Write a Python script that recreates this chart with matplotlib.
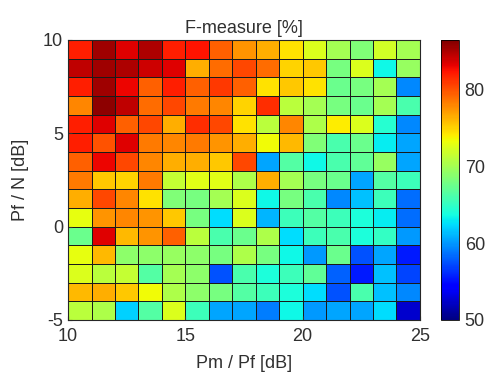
import numpy as np
import matplotlib
matplotlib.use('Agg')
import matplotlib.pyplot as plt

plt.rcParams['font.family'] = ['Liberation Sans', 'DejaVu Sans']
plt.rcParams['axes.unicode_minus'] = False

# cell edges, dB
pm_pf = np.arange(10, 26, 1)     # x edges
pf_n = np.arange(-5, 11, 1)      # y edges

# F-measure [%], rows listed from top (Pf/N = 9..10) to bottom (-5..-4)
f_rows = [
    [82.0, 85.5, 83.5, 85.0, 82.0, 82.5, 79.5, 77.5, 76.5, 74.5, 72.5, 70.0, 68.5, 72.0, 70.0],
    [84.5, 85.5, 85.0, 84.0, 83.5, 76.5, 79.0, 80.5, 79.0, 75.0, 75.5, 68.0, 72.5, 63.5, 69.5],
    [82.0, 85.5, 83.0, 79.5, 82.0, 79.5, 81.0, 79.5, 74.5, 75.5, 74.5, 67.5, 68.0, 70.0, 59.5],
    [78.0, 86.0, 84.5, 79.0, 80.5, 78.5, 78.0, 75.0, 81.5, 71.0, 70.0, 68.0, 67.5, 70.0, 66.0],
    [82.0, 83.5, 79.5, 80.5, 76.5, 81.5, 80.5, 74.5, 71.0, 78.0, 70.5, 74.0, 72.5, 64.5, 59.5],
    [82.0, 80.0, 83.5, 78.5, 78.0, 78.5, 77.5, 76.5, 73.5, 76.0, 68.5, 66.0, 67.5, 63.0, 60.5],
    [79.5, 83.0, 80.5, 78.0, 76.5, 76.5, 75.5, 80.5, 60.5, 66.5, 63.5, 66.0, 67.0, 69.5, 60.5],
    [78.5, 75.5, 75.0, 78.5, 71.5, 72.8, 72.8, 70.5, 76.5, 70.0, 68.0, 67.5, 60.5, 66.5, 65.5],
    [76.5, 80.5, 78.0, 74.5, 68.5, 68.0, 70.0, 72.5, 63.5, 68.0, 66.0, 59.5, 61.5, 65.5, 58.5],
    [73.0, 77.5, 78.0, 77.5, 75.5, 68.0, 62.5, 72.5, 61.0, 65.5, 66.5, 65.5, 64.0, 63.0, 58.5],
    [67.5, 83.5, 76.0, 77.5, 79.5, 71.0, 66.0, 67.5, 70.5, 62.5, 65.5, 66.0, 64.0, 65.0, 60.0],
    [73.0, 76.0, 69.0, 69.0, 69.5, 69.0, 68.0, 70.5, 68.0, 63.5, 60.0, 67.5, 57.5, 60.5, 55.5],
    [72.5, 71.0, 71.5, 66.5, 70.0, 69.0, 57.5, 66.0, 64.0, 65.5, 67.0, 58.0, 55.5, 61.5, 57.0],
    [76.0, 76.5, 75.5, 73.5, 70.5, 69.0, 68.0, 66.5, 65.5, 64.0, 62.5, 57.5, 66.0, 61.5, 59.5],
    [71.0, 70.5, 62.0, 66.5, 72.5, 65.5, 60.5, 60.5, 59.0, 63.5, 60.0, 60.5, 60.5, 62.5, 52.5],
]
f_measure = np.array(f_rows)[::-1]   # bottom row first

fig = plt.figure(figsize=(4.9, 3.8), dpi=100)
ax = fig.add_axes([0.139, 0.158, 0.718, 0.737])
cax = fig.add_axes([0.900, 0.158, 0.037, 0.737])

mesh = ax.pcolormesh(pm_pf, pf_n, f_measure, cmap='jet', vmin=50, vmax=86.5,
                     edgecolors='#1a1a1a', linewidth=0.7)
ax.set_xlim(10, 25)
ax.set_ylim(-5, 10)
ax.set_xticks([10, 15, 20, 25])
ax.set_yticks([-5, 0, 5, 10])
ax.tick_params(direction='in', length=3, labelsize=13, colors='#303030')
ax.tick_params(axis='x', pad=6)
for s in ax.spines.values():
    s.set_color('#262626')
    s.set_linewidth(0.8)
ax.set_xlabel('Pm / Pf [dB]', fontsize=13, color='#303030', labelpad=7)
ax.set_ylabel('Pf / N [dB]', fontsize=13, color='#303030', labelpad=10)
ax.set_title('F-measure [%]', fontsize=13, color='#303030', pad=5)

cb = fig.colorbar(mesh, cax=cax, ticks=[50, 60, 70, 80])
cb.outline.set_linewidth(0.6)
cb.ax.tick_params(labelsize=13, length=0, pad=4, colors='#303030')

fig.savefig('out.png', dpi=100)
